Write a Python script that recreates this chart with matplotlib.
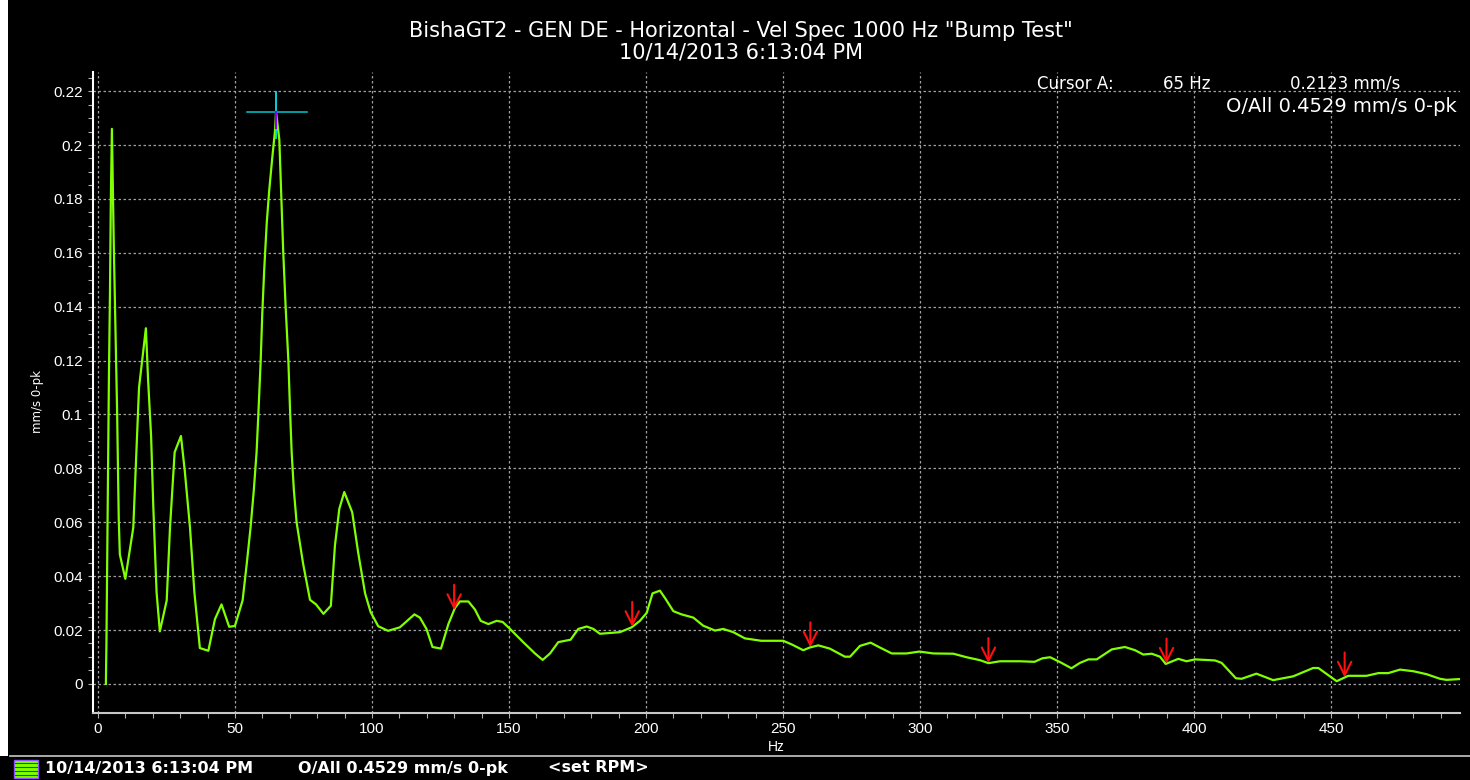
import numpy as np
import matplotlib
matplotlib.use("Agg")
import matplotlib.pyplot as plt
from matplotlib.patches import Rectangle

plt.rcParams['font.family'] = ['Liberation Sans', 'DejaVu Sans']

title_1 = 'BishaGT2 - GEN DE - Horizontal - Vel Spec 1000 Hz "Bump Test"'
title_2 = '10/14/2013 6:13:04 PM'

# spectrum (Hz, mm/s 0-pk)
freq = [2.9, 3.1, 3.4, 3.7, 4.0, 4.4, 4.7, 5.1, 5.5, 5.8, 6.2, 6.6, 7.0, 7.3, 7.6, 8.0,
        10.0, 12.9, 15.0, 17.5, 18.3, 19.4, 20.2, 21.4, 22.6, 25.1, 26.3, 28.0, 30.3,
        31.7, 33.6, 35.2, 37.2, 40.3, 42.7, 45.1, 47.9, 50.0, 52.8, 54.3, 55.7, 56.9,
        57.9, 58.5, 59.4, 60.0, 60.7, 61.6, 62.5, 63.6, 64.6, 65.0, 66.2, 67.0, 67.6,
        68.5, 69.5, 70.1, 70.7, 71.5, 72.5, 74.9, 77.4, 79.6, 82.3, 85.0, 86.5, 88.1,
        89.9, 92.8, 95.0, 97.5, 99.5, 102.3, 105.9, 110.2, 115.5, 117.5, 119.9, 122.1,
        125.2, 127.9, 130.3, 132.1, 135.2, 137.6, 139.7, 142.5, 145.5, 147.7, 150.4,
        155.2, 159.5, 162.3, 165.0, 168.0, 172.5, 175.3, 178.4, 180.8, 183.2, 186.9,
        190.5, 194.8, 197.8, 200.3, 202.4, 205.1, 207.0, 210.0, 213.0, 217.3, 220.9,
        225.2, 228.2, 231.9, 236.1, 242.1, 250.1, 253.1, 257.4, 259.8, 262.9, 267.1,
        272.6, 274.5, 278.1, 282.0, 285.4, 289.7, 295.1, 299.8, 304.9, 312.2, 317.0,
        321.9, 325.0, 329.2, 336.5, 341.8, 344.7, 347.5, 351.1, 355.3, 358.4, 361.5,
        364.5, 370.0, 374.8, 378.5, 381.5, 384.6, 387.6, 389.7, 394.3, 397.3, 400.4,
        407.7, 410.1, 415.3, 417.4, 422.8, 428.9, 436.2, 443.5, 445.4, 452.1, 456.3,
        463.0, 467.3, 470.9, 475.2, 480.1, 484.9, 489.8, 492.2, 497.1]
amp = [0.0, 0.015, 0.047, 0.080, 0.113, 0.146, 0.179, 0.206, 0.181, 0.162, 0.142, 0.121,
       0.101, 0.081, 0.061, 0.048,
       0.039, 0.058, 0.110, 0.132, 0.113, 0.092, 0.066, 0.034, 0.0195, 0.031, 0.058,
       0.086, 0.092, 0.079, 0.058, 0.034, 0.0133, 0.0123, 0.024, 0.0295, 0.0212, 0.0215,
       0.031, 0.0445, 0.058, 0.072, 0.086, 0.099, 0.120, 0.138, 0.154, 0.171, 0.183,
       0.195, 0.205, 0.2123, 0.202, 0.179, 0.161, 0.140, 0.120, 0.102, 0.086, 0.072,
       0.060, 0.0445, 0.0312, 0.0295, 0.026, 0.029, 0.0514, 0.065, 0.0712, 0.0637,
       0.0486, 0.0336, 0.0267, 0.0214, 0.0197, 0.021, 0.0258, 0.0246, 0.0204, 0.0137,
       0.0131, 0.0222, 0.0282, 0.0306, 0.0306, 0.0276, 0.0234, 0.0222, 0.0234, 0.023,
       0.0204, 0.0155, 0.0113, 0.0089, 0.0113, 0.0155, 0.0164, 0.0204, 0.0213, 0.0204,
       0.0186, 0.0189, 0.0192, 0.021, 0.0234, 0.0264, 0.0336, 0.0346, 0.0318, 0.027,
       0.0258, 0.0246, 0.0216, 0.0198, 0.0204, 0.0192, 0.0169, 0.016, 0.016, 0.0147,
       0.0125, 0.0135, 0.0143, 0.0131, 0.0101, 0.0101, 0.0141, 0.0153, 0.0135, 0.0113,
       0.0113, 0.012, 0.0113, 0.0112, 0.0099, 0.0088, 0.0077, 0.0084, 0.0084, 0.0082,
       0.0095, 0.0099, 0.0081, 0.0058, 0.0078, 0.0091, 0.0091, 0.0128, 0.0137, 0.0125,
       0.0109, 0.0112, 0.0101, 0.0074, 0.0093, 0.0084, 0.0091, 0.0087, 0.0078, 0.0021,
       0.0019, 0.0038, 0.0014, 0.0028, 0.0059, 0.0059, 0.001, 0.003, 0.003, 0.004,
       0.004, 0.0053, 0.0047, 0.0036, 0.0019, 0.0015, 0.0018]

cursor_hz = 65
cursor_val = 0.2123
overall = 0.4529
harmonics = [130, 195, 260, 325, 390, 455]

W, H = 1470, 780
fig = plt.figure(figsize=(W / 100, H / 100), dpi=100, facecolor='black')

def fx(px):
    return px / W

def fy(py):
    return 1 - py / H

ax = fig.add_axes([fx(93), fy(713), fx(1460) - fx(93), fy(72) - fy(713)])
ax.set_facecolor('black')
ax.set_xlim(-1.8, 497.1)
ax.set_ylim(-0.0108, 0.2271)

ax.plot(freq, amp, color='#80ff00', lw=1.6, zorder=3)

# cursor crosshair
ax.plot([cursor_hz, cursor_hz], [0.2027, 0.2197], color='#00e5ee', lw=1.3, zorder=4)
ax.plot([54.4, 76.3], [cursor_val, cursor_val], color='#00c8d0', lw=1.1, zorder=4)
ax.plot([cursor_hz, cursor_hz], [0.2065, cursor_val], color='#8a00ff', lw=1.6, zorder=5)

# harmonic markers
for h in harmonics:
    tip = np.interp(h, freq, amp)
    ax.annotate('', xy=(h, tip), xytext=(h, tip + 0.0093),
                arrowprops=dict(arrowstyle='->', color='#ff1010', lw=1.5,
                                mutation_scale=24, shrinkA=0, shrinkB=0), zorder=6)

ax.set_xticks(np.arange(0, 451, 50))
ax.set_xticks(np.arange(0, 491, 10), minor=True)
ax.set_yticks(np.arange(0, 0.221, 0.02))
ax.set_yticks(np.arange(0, 0.226, 0.005), minor=True)
ax.set_yticklabels(['0', '0.02', '0.04', '0.06', '0.08', '0.1', '0.12', '0.14',
                    '0.16', '0.18', '0.2', '0.22'])
ax.tick_params(which='both', colors='#b0b0b0', labelcolor='white', length=3.5, width=0.8,
               labelsize=11)
ax.tick_params(axis='y', pad=4)
ax.tick_params(axis='x', pad=3)
ax.grid(True, which='major', color='#a0a0a0', lw=0.9, linestyle=(0, (2, 2)))
for s in ['top', 'right']:
    ax.spines[s].set_visible(False)
ax.spines['left'].set_color('white')
ax.spines['left'].set_linewidth(1.5)
ax.spines['bottom'].set_color('#c8c8c8')
ax.spines['bottom'].set_linewidth(1.5)

ax.set_xlabel('Hz', color='white', fontsize=10, labelpad=3)
fig.text(fx(38), fy(402), 'mm/s 0-pk', color='white', fontsize=8.5, rotation=90,
         ha='center', va='center', family='DejaVu Sans')

# titles
fig.text(fx(741), fy(31), title_1, color='white', fontsize=15, ha='center', va='center',
         family='DejaVu Sans')
fig.text(fx(741), fy(53), title_2, color='white', fontsize=15, ha='center', va='center',
         family='DejaVu Sans')

# cursor readout
fig.text(fx(1037), fy(84), 'Cursor A:', color='white', fontsize=12, va='center',
         family='DejaVu Sans')
fig.text(fx(1163), fy(84), '%d Hz' % cursor_hz, color='white', fontsize=12, va='center',
         family='DejaVu Sans')
fig.text(fx(1290), fy(84), '%.4f mm/s' % cursor_val, color='white', fontsize=12,
         va='center', family='DejaVu Sans')
fig.text(fx(1457), fy(106), 'O/All %.4f mm/s 0-pk' % overall, color='white',
         fontsize=14, ha='right', va='center', family='DejaVu Sans')

# footer
fig.add_artist(plt.Line2D([fx(10), 1], [fy(756), fy(756)], color='#c8c8c8', lw=1.2))
fig.add_artist(Rectangle((0, fy(756)), fx(8), 1 - fy(756), facecolor='white',
                         edgecolor='none'))
fig.add_artist(Rectangle((fx(14), fy(778)), fx(24), fy(760) - fy(778),
                         facecolor='#7fff00', edgecolor='#9050ff', lw=1))
for py in [763, 767, 771, 775]:
    fig.add_artist(plt.Line2D([fx(15), fx(37)], [fy(py), fy(py)], color='#2a6000', lw=0.8))
fig.text(fx(45), fy(768), title_2, color='white', fontsize=11.5, fontweight='bold',
         va='center', family='DejaVu Sans')
fig.text(fx(298), fy(768), 'O/All %.4f mm/s 0-pk' % overall, color='white',
         fontsize=11.5, fontweight='bold', va='center', family='DejaVu Sans')
fig.text(fx(548), fy(768), '<set RPM>', color='white', fontsize=11.5, fontweight='bold',
         va='center', family='DejaVu Sans')

fig.savefig('out.png', dpi=100, facecolor='black')
